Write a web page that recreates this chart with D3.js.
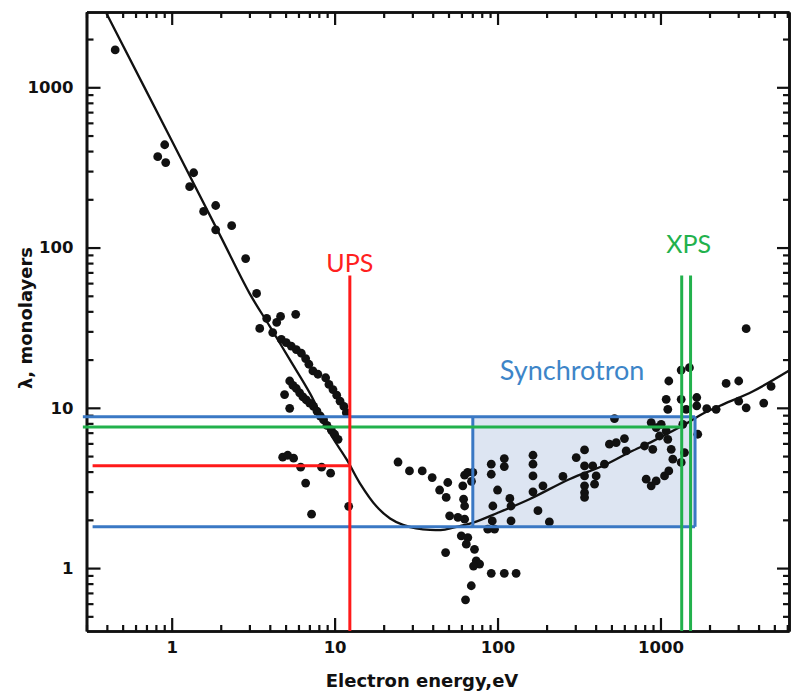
<!DOCTYPE html>
<html><head><meta charset="utf-8">
<script src="https://cdn.jsdelivr.net/npm/d3@7"></script>
<style>body{margin:0;background:#fff}svg{display:block}</style>
</head><body>
<svg id="c" width="791" height="694"></svg>
<script>
// ---------- data ----------
const xDomain = [0.3, 6150];          // electron energy, eV (log)
const yDomain = [0.405, 2950];        // lambda, monolayers (log)
const xMajorTicks = [1, 10, 100, 1000];
const yMajorTicks = [1, 10, 100, 1000];
const xTickLabels = ["1", "10", "100", "1000"];
const yTickLabels = ["1", "10", "100", "1000"];

// universal curve (energy, lambda)
const curveEnergy = [0.398, 1, 2, 3.0, 4.01, 5.32, 7.06, 9.37, 11.9, 14.3, 18.1, 21.9, 26.3, 31.6, 38.5, 47.6, 58.7, 70.8, 99, 158, 278, 445, 650, 900, 1450, 1750, 2320, 3700, 6240];
const curveLambda = [2890, 465, 117, 52, 32.1, 19.9, 12.3, 6.94, 4.73, 3.38, 2.42, 2.04, 1.86, 1.77, 1.73, 1.74, 1.83, 1.92, 2.2, 2.7, 3.6, 4.35, 5.3, 6.2, 8.0, 9.0, 10.3, 12.7, 17.2];

// measured points [energy, lambda]
const measured = [
 [0.45,1710],[0.906,438],[0.821,369],[0.919,339],[1.364,293],[1.289,240],[1.862,183],[1.571,168],[2.334,137],[1.862,129],[2.844,85.4],[3.32,51.7],
 [3.47,31.3],[3.83,36.1],[4.41,34.1],[4.17,29.5],[4.66,37.2],[5.77,38.3],
 [4.71,26.7],[5.05,25.5],[5.42,24.3],[5.82,23.1],[6.25,21.9],[6.64,20.3],[6.95,18.7],[7.36,17.0],[7.90,16.2],[8.81,15.4],[9.23,14.0],[9.77,13.0],[10.3,12.0],[10.8,11.0],[11.4,10.2],[11.8,9.33],
 [5.30,14.7],[5.55,13.8],[5.82,13.2],[6.10,12.4],[6.39,11.7],[6.70,11.2],[7.03,10.7],[7.43,10.2],[7.79,9.55],[8.17,8.89],[8.56,8.40],[8.97,7.78],[9.55,7.27],[10.0,6.84],[10.5,6.36],
 [4.93,12.1],[5.30,9.93],
 [4.80,4.92],[5.15,5.06],[5.60,4.85],[6.19,4.26],[8.32,4.26],[9.45,3.91],[6.64,3.39],[7.22,2.17],[12.2,2.43],
 [24.5,4.59],[28.8,4.04],[34.5,4.04],[39.7,3.67],[49.5,3.42],[44.1,3.07],[48.4,2.76],[62.8,3.80],[69.2,3.48],[61.2,3.26],[61.9,2.69],[62.8,2.44],[50.8,2.12],[57.1,2.07],[62.8,2.02],[59.9,1.59],[65.7,1.55],[64.3,1.41],[72.2,1.31],[48.0,1.25],[74.0,1.11],[77.6,1.06],[71.2,1.03],[91.5,0.927],[110,0.927],[130,0.927],[69.0,0.776],[63.6,0.634],[65.5,3.96],
 [91.5,4.45],[110,4.82],[110,4.30],[91.5,3.85],[100,3.07],[119,2.72],[93.6,2.44],[121,2.44],[92.8,1.97],[121,1.97],[87.1,1.75],[95.8,1.75],[70.5,3.95],
 [165,5.06],[165,4.45],[165,3.76],[165,2.99],[190,3.26],[177,2.28],[208,1.94],[252,3.73],[304,4.89],[342,5.46],[342,4.34],[342,3.76],[342,3.26],[342,2.96],[342,2.76],[384,4.34],[403,3.76],[394,3.34],[453,4.45],[486,5.93],[535,6.07],[601,6.43],[616,5.38],[522,8.57],
 [3357,31.2],[1125,14.7],[1340,17.2],[1506,17.8],[2530,14.2],[3022,14.7],[4775,13.6],[1084,11.3],[1340,11.3],[1670,11.6],[1670,10.3],[1923,9.89],[2196,9.79],[3022,11.0],[3357,10.0],[4303,10.7],[1109,9.79],[1438,9.79],[1694,6.84],[877,8.09],[941,7.53],[1010,7.89],[1084,7.17],[1109,6.36],[1164,5.51],[1191,4.78],[1404,5.26],[1340,4.56],[798,5.78],[897,5.51],[817,3.59],[877,3.26],[941,3.50],[1059,3.76],[1125,4.04],[1371,7.89],[986,6.67]
];

// technique overlays
const upsEnergy = 12.4, upsTop = 67, upsLevel = 4.35, upsLeft = 0.327;
const xpsEnergies = [1350, 1530], xpsTop = 67, xpsLevel = 7.6, xpsLeft = 0.285;
const syncEnergy = [70.5, 1630], syncLambda = [1.81, 8.8], syncTopLeft = 0.285, syncBottomLeft = 0.327;
const labels = [{t:"UPS", e:12.4, l:70, c:"#ff2020"}, {t:"XPS", e:1488, l:92.5, c:"#22b14c"}, {t:"Synchrotron", e:287, l:14.9, c:"#3d85c8"}];

// ---------- drawing ----------
const svg = d3.select("#c");
const L = 86.5, R = 789, T = 12, B = 631;
const x = d3.scaleLog().domain(xDomain).range([L, R]);
const y = d3.scaleLog().domain(yDomain).range([B, T]);

function minors(d){ const out=[]; for(let p=-1;p<=3;p++){ for(let k=2;k<=9;k++){ const v=k*Math.pow(10,p); if(v>=d[0]&&v<=d[1]) out.push(v);} } return out; }
const xMinor = minors(xDomain), yMinor = minors(yDomain);

// shaded synchrotron box
svg.append("rect").attr("x", x(syncEnergy[0])).attr("y", y(syncLambda[1]))
  .attr("width", x(syncEnergy[1]) - x(syncEnergy[0])).attr("height", y(syncLambda[0]) - y(syncLambda[1]))
  .attr("fill", "#dde5f2");

// axes
const font = "'DejaVu Sans', sans-serif";
function styleAxis(g){ g.select(".domain").attr("stroke","#111").attr("stroke-width",2.6); g.selectAll(".tick line").attr("stroke","#111").attr("stroke-width",2.2); g.selectAll("text").attr("font-family",font).attr("font-weight","bold").attr("font-size",16.5).attr("fill","#111"); }

svg.append("g").attr("transform",`translate(0,${B})`).call(d3.axisBottom(x).tickValues(xMajorTicks).tickFormat((d,i)=>xTickLabels[i]).tickSizeInner(-13).tickSizeOuter(0).tickPadding(10)).call(styleAxis);
svg.append("g").attr("transform",`translate(0,${B})`).call(d3.axisBottom(x).tickValues(xMinor).tickFormat("").tickSizeInner(-6).tickSizeOuter(0)).call(styleAxis);
svg.append("g").attr("transform",`translate(0,${T})`).call(d3.axisTop(x).tickValues(xMajorTicks).tickFormat("").tickSizeInner(-13).tickSizeOuter(0)).call(styleAxis);
svg.append("g").attr("transform",`translate(0,${T})`).call(d3.axisTop(x).tickValues(xMinor).tickFormat("").tickSizeInner(-6).tickSizeOuter(0)).call(styleAxis);
svg.append("g").attr("transform",`translate(${L},0)`).call(d3.axisLeft(y).tickValues(yMajorTicks).tickFormat((d,i)=>yTickLabels[i]).tickSizeInner(-14).tickSizeOuter(0).tickPadding(13)).call(styleAxis);
svg.append("g").attr("transform",`translate(${L},0)`).call(d3.axisLeft(y).tickValues(yMinor).tickFormat("").tickSizeInner(-7).tickSizeOuter(0)).call(styleAxis);
svg.append("g").attr("transform",`translate(${R},0)`).call(d3.axisRight(y).tickValues(yMajorTicks).tickFormat("").tickSizeInner(-12).tickSizeOuter(0)).call(styleAxis);
svg.append("g").attr("transform",`translate(${R},0)`).call(d3.axisRight(y).tickValues(yMinor).tickFormat("").tickSizeInner(-6).tickSizeOuter(0)).call(styleAxis);

// axis titles
svg.append("text").attr("x", 422).attr("y", 687).attr("text-anchor","middle")
  .attr("font-family",font).attr("font-weight","bold").attr("font-size",18).attr("fill","#111").text("Electron energy,eV");
svg.append("text").attr("transform","translate(32,318) rotate(-90)").attr("text-anchor","middle")
  .attr("font-family",font).attr("font-weight","bold").attr("font-size",18).attr("fill","#111").text("λ, monolayers");

// plot area clip
svg.append("clipPath").attr("id","clip").append("rect").attr("x",L).attr("y",T).attr("width",R-L).attr("height",B-T);
const plot = svg.append("g").attr("clip-path","url(#clip)");

// curve
const curvePts = curveEnergy.map((e,i)=>[e, curveLambda[i]]);
plot.append("path").datum(curvePts)
  .attr("d", d3.line().x(d=>x(d[0])).y(d=>y(d[1])).curve(d3.curveCatmullRom.alpha(0.5)))
  .attr("fill","none").attr("stroke","#111").attr("stroke-width",2.3);

// measured dots
plot.selectAll("circle.m").data(measured).join("circle").attr("class","m")
  .attr("cx", d=>x(d[0])).attr("cy", d=>y(d[1])).attr("r", 4.4).attr("fill","#111");

// overlays
const ov = svg.append("g").attr("fill","none");
const blue = "#3a78c4", green = "#22b14c", red = "#ff1a1a";
// synchrotron (blue)
ov.append("line").attr("x1", x(syncTopLeft)).attr("x2", x(syncEnergy[1])).attr("y1", y(syncLambda[1])).attr("y2", y(syncLambda[1])).attr("stroke", blue).attr("stroke-width",3);
ov.append("line").attr("x1", x(syncBottomLeft)).attr("x2", x(syncEnergy[1])).attr("y1", y(syncLambda[0])).attr("y2", y(syncLambda[0])).attr("stroke", blue).attr("stroke-width",3);
syncEnergy.forEach(e=>ov.append("line").attr("x1",x(e)).attr("x2",x(e)).attr("y1",y(syncLambda[1])).attr("y2",y(syncLambda[0])).attr("stroke",blue).attr("stroke-width",3));
// XPS (green)
ov.append("line").attr("x1", x(xpsLeft)).attr("x2", x(xpsEnergies[0])).attr("y1", y(xpsLevel)).attr("y2", y(xpsLevel)).attr("stroke", green).attr("stroke-width",3);
xpsEnergies.forEach(e=>ov.append("line").attr("x1",x(e)).attr("x2",x(e)).attr("y1",y(xpsTop)).attr("y2",B).attr("stroke",green).attr("stroke-width",3));
// UPS (red)
ov.append("line").attr("x1", x(upsLeft)).attr("x2", x(upsEnergy)).attr("y1", y(upsLevel)).attr("y2", y(upsLevel)).attr("stroke", red).attr("stroke-width",3);
ov.append("line").attr("x1", x(upsEnergy)).attr("x2", x(upsEnergy)).attr("y1", y(upsTop)).attr("y2", B).attr("stroke", red).attr("stroke-width",3);

// labels
svg.selectAll("text.lab").data(labels).join("text").attr("class","lab")
  .attr("x", d=>x(d.e)).attr("y", d=>y(d.l)).attr("text-anchor","middle")
  .attr("font-family","Lato, 'Open Sans', sans-serif").attr("font-size", d=>d.t==="Synchrotron"?27:25)
  .attr("fill", d=>d.c).text(d=>d.t);
</script>
</body></html>
